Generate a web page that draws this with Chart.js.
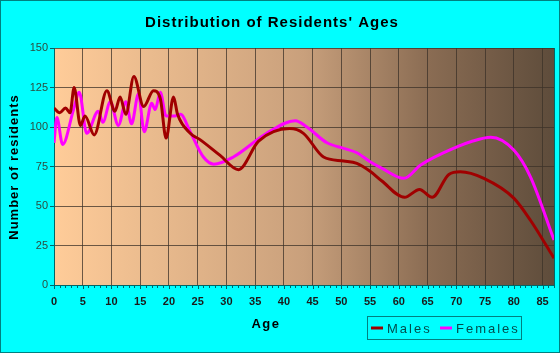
<!DOCTYPE html>
<html>
<head>
<meta charset="utf-8">
<script src="https://cdn.jsdelivr.net/npm/chart.js@4/dist/chart.umd.min.js"></script>
<style>
  html, body { margin: 0; padding: 0; background: #00ffff; }
  #wrap { width: 560px; height: 353px; }
</style>
</head>
<body>
<div id="wrap"><canvas id="ages" width="560" height="353"></canvas></div>
<script>
(function () {
  "use strict";

  var TITLE = "Distribution of Residents' Ages";
  var xTicks = [0, 5, 10, 15, 20, 25, 30, 35, 40, 45, 50, 55, 60, 65, 70, 75, 80, 85];
  var yTicks = [0, 25, 50, 75, 100, 125, 150];

  var maleAges = [0, 1, 2, 2.8, 3.5, 4.6, 5.4, 7, 9.2, 10.6, 11.5, 12.5, 13.9, 15.6, 17.3, 18.5, 19.5, 20.8, 21.5, 23.7, 25.4, 28.9, 32.1, 35.6, 41, 43.4, 46.9, 50.4, 52.7, 55, 57, 61, 63.6, 65.8, 68.7, 70.7, 74.8, 80, 82.9, 87];
  var maleValues = [112, 109, 112, 109, 125, 101, 107, 95, 123, 110, 119, 108, 132, 113, 123, 118, 93, 119, 108, 96, 92, 82, 73, 91, 99, 96, 81, 78.5, 77, 72, 66, 55.5, 60.5, 55.5, 70, 71.7, 67.5, 55, 41, 17];

  var femaleAges = [0, 0.5, 1.5, 3.4, 4.4, 5.7, 7.7, 8.5, 9.8, 11.2, 12.5, 13.5, 14.7, 15.7, 17, 17.6, 18.5, 19.5, 21, 22, 23.7, 26, 27.8, 31.2, 37, 42, 44, 47.5, 50.4, 52.7, 55, 57, 60.9, 63.8, 70.2, 72.5, 76, 80, 82.9, 87];
  var femaleValues = [90, 106, 89, 111, 122, 96, 110, 103, 116, 101, 116, 102, 121, 97, 115, 111, 122, 107, 107, 108, 97, 81, 76.5, 81, 96, 104, 100, 90, 86.5, 83.7, 78, 74, 67.5, 76, 87.6, 90.7, 93.5, 85.4, 68.5, 28.5];

  function pts(xs, ys) {
    return xs.map(function (x, i) { return { x: x, y: ys[i] }; });
  }

  var AXIS = "#006666";
  var GRID = "rgba(60,50,40,0.75)";

  var frame = {
    id: "frame",
    beforeDraw: function (c) {
      var ctx = c.ctx, a = c.chartArea;
      ctx.save();
      ctx.fillStyle = "#00ffff";
      ctx.fillRect(0, 0, c.width, c.height);
      ctx.strokeStyle = "#008080";
      ctx.lineWidth = 1;
      ctx.strokeRect(0.5, 0.5, c.width - 1, c.height - 1);
      var g = ctx.createLinearGradient(a.left, 0, a.right, 0);
      g.addColorStop(0, "#ffcc99");
      g.addColorStop(0.5, "#c9a07c");
      g.addColorStop(0.75, "#8a6c53");
      g.addColorStop(1, "#5e4c3b");
      ctx.fillStyle = g;
      ctx.fillRect(a.left, a.top, a.right - a.left, a.bottom - a.top);
      ctx.restore();
    },
    afterDraw: function (c) {
      var ctx = c.ctx, a = c.chartArea, xs = c.scales.x;
      ctx.save();
      // minor ticks on the age axis
      ctx.strokeStyle = AXIS;
      ctx.lineWidth = 1;
      ctx.beginPath();
      for (var i = 0; i <= 87; i++) {
        var px = Math.round(xs.getPixelForValue(i)) + 0.5;
        ctx.moveTo(px, a.bottom);
        ctx.lineTo(px, a.bottom + (i % 5 === 0 ? 4 : 3));
      }
      ctx.stroke();
      // right border of plot
      ctx.beginPath();
      ctx.moveTo(a.right + 0.5, a.top);
      ctx.lineTo(a.right + 0.5, a.bottom);
      ctx.stroke();

      // title
      ctx.fillStyle = "#000";
      ctx.textAlign = "center";
      ctx.textBaseline = "middle";
      ctx.font = "bold 15px 'Liberation Sans', Arial, sans-serif";
      ctx.letterSpacing = "1px";
      ctx.fillText(TITLE, 272, 23);

      // axis titles
      ctx.font = "bold 13px 'Liberation Sans', Arial, sans-serif";
      ctx.letterSpacing = "1.5px";
      ctx.fillText("Age", 266, 324);
      ctx.save();
      ctx.translate(14, 167);
      ctx.rotate(-Math.PI / 2);
      ctx.letterSpacing = "1px";
      ctx.fillText("Number of residents", 0, 0);
      ctx.restore();

      // legend
      ctx.strokeStyle = "#008080";
      ctx.strokeRect(367.5, 316.5, 154, 23);
      ctx.font = "13px 'Liberation Sans', Arial, sans-serif";
      ctx.letterSpacing = "2px";
      ctx.textAlign = "left";
      var items = [
        { label: c.data.datasets[0].label, color: c.data.datasets[0].borderColor, x: 371 },
        { label: c.data.datasets[1].label, color: c.data.datasets[1].borderColor, x: 440 }
      ];
      items.forEach(function (it) {
        ctx.strokeStyle = it.color;
        ctx.lineWidth = 3;
        ctx.beginPath();
        ctx.moveTo(it.x, 328);
        ctx.lineTo(it.x + 12, 328);
        ctx.stroke();
        ctx.fillStyle = "#004d4d";
        ctx.fillText(it.label, it.x + 16, 329);
      });
      ctx.restore();
    }
  };

  new Chart(document.getElementById("ages"), {
    type: "line",
    data: {
      datasets: [
        {
          label: "Males",
          data: pts(maleAges, maleValues),
          borderColor: "#a00000",
          borderWidth: 3,
          pointRadius: 0,
          cubicInterpolationMode: "monotone",
          fill: false
        },
        {
          label: "Females",
          data: pts(femaleAges, femaleValues),
          borderColor: "#ff00ff",
          borderWidth: 3,
          pointRadius: 0,
          cubicInterpolationMode: "monotone",
          fill: false
        }
      ]
    },
    options: {
      responsive: false,
      animation: false,
      layout: { padding: { top: 48, right: 6, left: 0, bottom: 0 } },
      plugins: {
        legend: { display: false },
        title: { display: false },
        tooltip: { enabled: false }
      },
      scales: {
        x: {
          type: "linear",
          min: 0,
          max: 87,
          afterFit: function (s) { s.height = 68; },
          afterBuildTicks: function (s) {
            s.ticks = xTicks.map(function (v) { return { value: v }; });
          },
          border: { color: AXIS, width: 1 },
          grid: { color: GRID, tickLength: 0, drawTicks: false },
          ticks: {
            padding: 10,
            maxRotation: 0,
            autoSkip: false,
            color: "#1a1a1a",
            font: { family: "'Liberation Sans', Arial, sans-serif", size: 11, weight: "bold" }
          }
        },
        y: {
          min: 0,
          max: 150,
          afterFit: function (s) { s.width = 54; },
          afterBuildTicks: function (s) {
            s.ticks = yTicks.map(function (v) { return { value: v }; });
          },
          border: { color: AXIS, width: 1 },
          grid: { color: GRID, tickColor: AXIS, tickLength: 4 },
          ticks: {
            padding: 2,
            color: "#2b4d40",
            font: { family: "'Liberation Sans', Arial, sans-serif", size: 11 }
          }
        }
      }
    },
    plugins: [frame]
  });
})();
</script>
</body>
</html>
